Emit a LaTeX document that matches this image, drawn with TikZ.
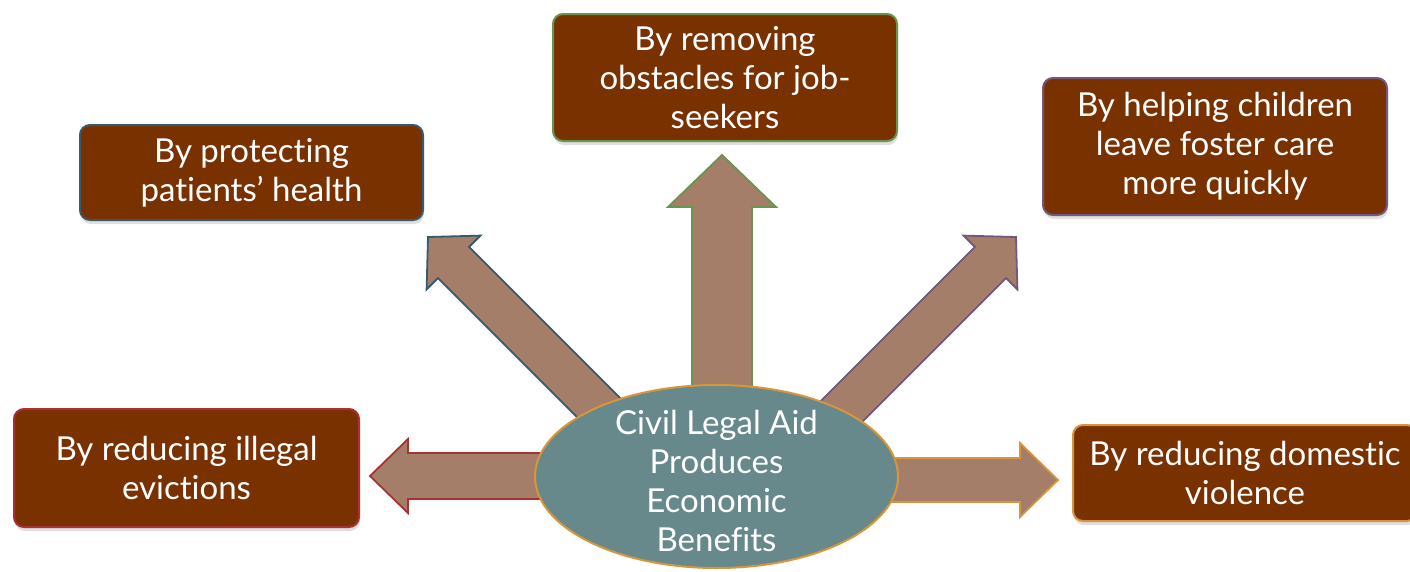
\documentclass[tikz,border=0pt]{standalone}
\usepackage{fontspec}
\setmainfont{Lato}[Ligatures=NoCommon]
\usetikzlibrary{shadows,shapes.geometric}
\definecolor{boxfill}{RGB}{122,49,0}
\definecolor{arrowfill}{RGB}{164,126,104}
\definecolor{ellfill}{RGB}{104,137,140}
\definecolor{ellline}{RGB}{214,150,60}
\definecolor{cteal}{RGB}{55,90,108}
\definecolor{cgreen}{RGB}{105,148,78}
\definecolor{cpurple}{RGB}{115,88,125}
\definecolor{cred}{RGB}{170,50,50}
\definecolor{corange}{RGB}{215,150,60}
\tikzset{
  benefit/.style={rectangle, rounded corners=10pt, line width=2pt, fill=boxfill,
    text=white, align=center, inner sep=0pt,
    drop shadow={shadow xshift=1pt, shadow yshift=-4pt, opacity=0.25}},
  blockarrow/.style={fill=arrowfill, line width=1.8pt, line join=miter},
  hub/.style={ellipse, draw=ellline, line width=2pt, fill=ellfill, inner sep=0pt},
  hubtext/.style={text=white, align=center, inner sep=0pt}
}
\begin{document}
\begin{tikzpicture}[x=1pt,y=-1pt,font=\fontsize{33}{39}\selectfont]
\useasboundingbox[fill=white] (0,0) rectangle (1410,571);

% block arrows (drawn first, behind the ellipse)
\draw[blockarrow, draw=cteal] (655.6,433.4) -- (469.1,246.9) -- (480.4,235.6) -- (428,237) -- (426.6,289.4) -- (437.9,278.1) -- (624.4,464.6) -- cycle;
\draw[blockarrow, draw=cpurple] (788.4,433.4) -- (974.9,246.9) -- (963.6,235.6) -- (1016,237) -- (1017.4,289.4) -- (1006.1,278.1) -- (819.6,464.6) -- cycle;
\draw[blockarrow, draw=cgreen] (692,420) -- (692,207) -- (668,207) -- (722,155) -- (776,207) -- (752,207) -- (752,420) -- cycle;
\draw[blockarrow, draw=cred] (600,453) -- (408,453) -- (408,439) -- (370,476) -- (408,513) -- (408,499) -- (600,499) -- cycle;
\draw[blockarrow, draw=corange] (820,458) -- (1020,458) -- (1020,443) -- (1058,480) -- (1020,517) -- (1020,502) -- (820,502) -- cycle;

\node[hub, minimum width=363pt, minimum height=183pt] (hub) at (716.5,476.5) {};
\node[hubtext] (hubtext) at ([yshift=-4pt]hub.center)
  {Civil Legal Aid\\Produces\\Economic\\Benefits};

\node[benefit, draw=cteal, minimum width=343pt, minimum height=95pt] (health) at (251.5,172.5)
  {By protecting\\patients’ health};
\node[benefit, draw=cgreen, minimum width=344pt, minimum height=127pt] (jobs) at (725,77.5)
  {By removing\\obstacles for job-\\seekers};
\node[benefit, draw=cpurple, minimum width=344pt, minimum height=137pt] (foster) at (1215,146.5)
  {By helping children\\leave foster care\\more quickly};
\node[benefit, draw=cred, minimum width=345pt, minimum height=118pt] (evict) at (186.5,468)
  {By reducing illegal\\evictions};
\node[benefit, draw=corange, minimum width=344pt, minimum height=96pt] (dv) at (1245,473)
  {By reducing domestic\\violence};
\end{tikzpicture}
\end{document}
